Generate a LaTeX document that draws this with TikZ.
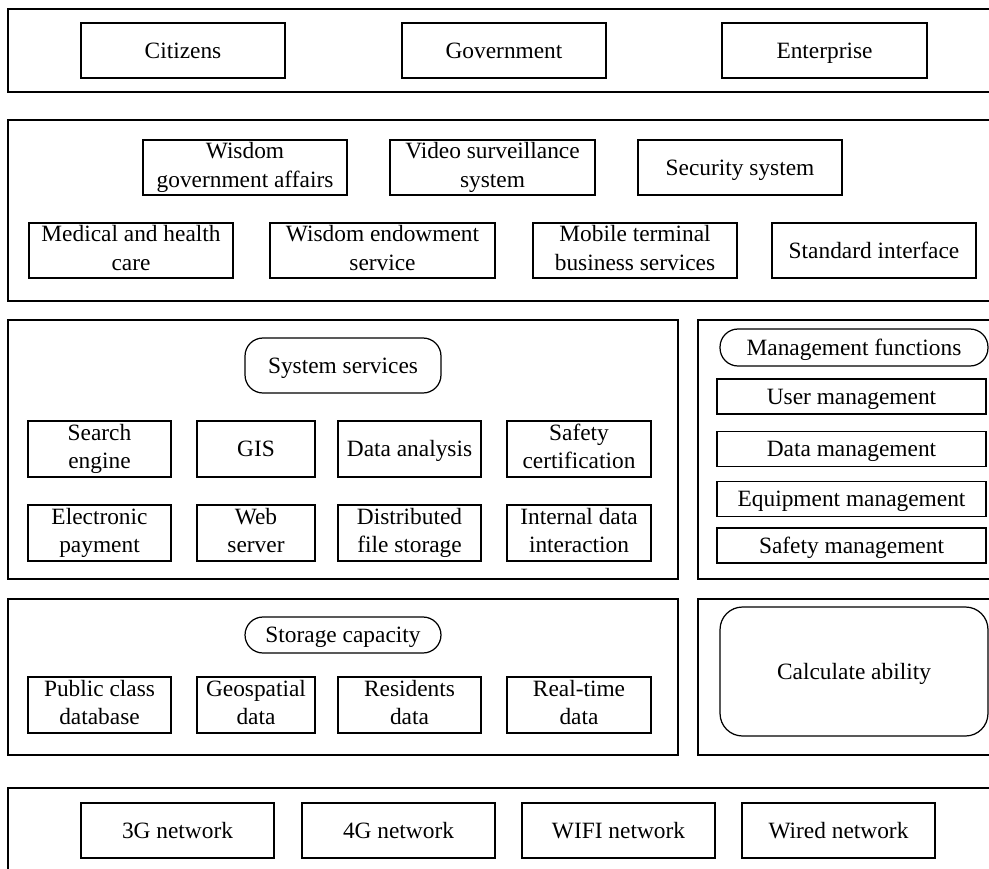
\documentclass[tikz,border=0pt]{standalone}
\usepackage{fontspec}
\setmainfont{Liberation Serif}
\usetikzlibrary{positioning}
\newcommand{\lstr}{\rule[-3pt]{0pt}{15pt}}

\begin{document}
\begin{tikzpicture}[x=0.02cm,y=-0.02cm,line width=0.7pt,
	font=\fontsize{13.3}{16.2}\selectfont,
	every node/.style={execute at begin node=\lstr,execute at end node=\lstr},
	bx/.style={draw,align=center,inner sep=0pt,minimum height=1.1cm},
	sbx/.style={draw,align=center,inner sep=0pt,minimum height=0.7cm,minimum width=5.38cm},
	rbx/.style={draw,align=center,inner sep=0pt,rounded corners=0.36cm}]
	\clip(0,0)rectangle(989,868);
	% layers
	\draw(8,9)rectangle(995,92) (8,120)rectangle(995,301);
	\draw(8,320)rectangle(678,579) (698,320)rectangle(995,579);
	\draw(8,599)rectangle(678,755) (698,599)rectangle(995,755);
	\draw(8,788)rectangle(995,880);
	% users
	\node[bx,minimum width=4.08cm](cit) at (183,50.5){Citizens};
	\node[bx,minimum width=4.08cm](gov) at (504,50.5){Government};
	\node[bx,minimum width=4.1cm](ent) at (824.5,50.5){Enterprise};
	% applications
	\node[bx,minimum width=4.08cm](wga) at (245,167.5){Wisdom\\government affairs};
	\node[bx,minimum width=4.1cm](vss) at (492.5,167.5){Video surveillance\\system};
	\node[bx,minimum width=4.08cm](sec) at (740,167.5){Security system};
	\node[bx,minimum width=4.08cm](med) at (131,250.5){Medical and health\\care};
	\node[bx,minimum width=4.5cm](wes) at (382.5,250.5){Wisdom endowment\\service};
	\node[bx,minimum width=4.08cm](mob) at (635,250.5){Mobile terminal\\business services};
	\node[bx,minimum width=4.08cm](std) at (874,250.5){Standard interface};
	% system services
	\node[rbx,minimum width=3.92cm,minimum height=1.1cm](sys) at (343,365.5){System services};
	\node[bx,minimum width=2.86cm,minimum height=1.12cm](seng) at (99.5,449){Search\\engine};
	\node[bx,minimum width=2.36cm,minimum height=1.12cm](gis) at (256,449){GIS};
	\node[bx,minimum width=2.86cm,minimum height=1.12cm](dan) at (409.5,449){Data analysis};
	\node[bx,minimum width=2.88cm,minimum height=1.12cm](scert) at (579,449){Safety\\certification};
	\node[bx,minimum width=2.86cm,minimum height=1.12cm](epay) at (99.5,533){Electronic\\payment};
	\node[bx,minimum width=2.36cm,minimum height=1.12cm](web) at (256,533){Web\\server};
	\node[bx,minimum width=2.86cm,minimum height=1.12cm](dfs) at (409.5,533){Distributed\\file storage};
	\node[bx,minimum width=2.88cm,minimum height=1.12cm](idi) at (579,533){Internal data\\interaction};
	% management
	\node[rbx,minimum width=5.36cm,minimum height=0.74cm](mgt) at (854,347.5){Management functions};
	\node[sbx](usr) at (851.5,396.5){User management};
	\node[sbx](dmg) at (851.5,449){Data management};
	\node[sbx](eqp) at (851.5,499){Equipment management};
	\node[sbx](smg) at (851.5,545.5){Safety management};
	% storage
	\node[rbx,minimum width=3.92cm,minimum height=0.72cm](sto) at (343,635){Storage capacity};
	\node[bx,minimum width=2.86cm,minimum height=1.12cm](pub) at (99.5,705){Public class\\database};
	\node[bx,minimum width=2.36cm,minimum height=1.12cm](geo) at (256,705){Geospatial\\data};
	\node[bx,minimum width=2.86cm,minimum height=1.12cm](res) at (409.5,705){Residents\\data};
	\node[bx,minimum width=2.88cm,minimum height=1.12cm](rtd) at (579,705){Real-time\\data};
	\node[rbx,rounded corners=0.45cm,minimum width=5.36cm,minimum height=2.58cm](calc) at (854,671.5){Calculate ability};
	% network
	\node[bx,minimum width=3.86cm](n3g) at (177.5,830.5){3G network};
	\node[bx,minimum width=3.86cm](n4g) at (398.5,830.5){4G network};
	\node[bx,minimum width=3.86cm](wifi) at (618.5,830.5){WIFI network};
	\node[bx,minimum width=3.86cm](wired) at (838.5,830.5){Wired network};
\end{tikzpicture}
\end{document}
